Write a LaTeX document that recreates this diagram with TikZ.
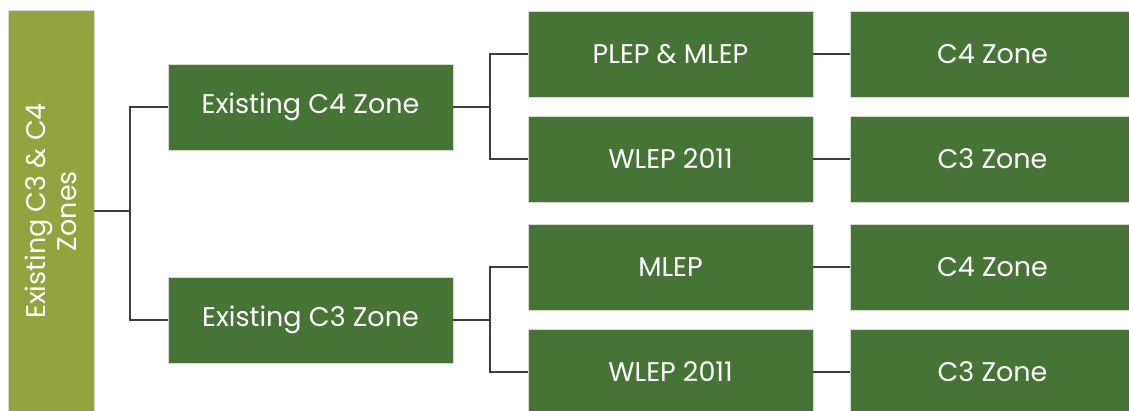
\documentclass[tikz,border=0pt]{standalone}
\usepackage{fontspec}
\setmainfont{Poppins}
\usetikzlibrary{calc}

\definecolor{rootgreen}{HTML}{93A33E}
\definecolor{boxgreen}{HTML}{467437}
\definecolor{edgegray}{HTML}{D5DCCF}
\definecolor{linkgray}{HTML}{3A3D48}

\tikzset{
	zonebox/.style={rectangle, fill=boxgreen, draw=edgegray, line width=0.8pt,
		minimum width=285pt, minimum height=86pt, inner sep=0pt,
		text=white, font=\fontsize{27}{31}\selectfont},
	rootbox/.style={zonebox, fill=rootgreen, minimum width=402pt,
		minimum height=86pt, rotate=90, align=center},
	link/.style={draw=linkgray, line width=2pt},
}

\begin{document}
\begin{tikzpicture}[x=1pt,y=-1pt]

% parameters %{{{2

	\def\colA{51}
	\def\colB{310.5}
	\def\colC{670.5}
	\def\colD{992.5}

	\useasboundingbox (0,0) rectangle (1129,410);

% boxes %{{{2

	\node[rootbox] (root) at (\colA,211) {Existing C3 \& C4\\Zones};

	\node[zonebox] (oldfour)  at (\colB,107) {Existing C4 Zone};
	\node[zonebox] (oldthree) at (\colB,320) {Existing C3 Zone};

	\node[zonebox] (plepmlep) at (\colC,54)  {PLEP \& MLEP};
	\node[zonebox] (wlepA)    at (\colC,159) {WLEP 2011};
	\node[zonebox] (mlep)     at (\colC,267) {MLEP};
	\node[zonebox] (wlepB)    at (\colC,372) {WLEP 2011};

	\node[zonebox] (fourA)  at (\colD,54)  {C4 Zone};
	\node[zonebox] (threeA) at (\colD,159) {C3 Zone};
	\node[zonebox] (fourB)  at (\colD,267) {C4 Zone};
	\node[zonebox] (threeB) at (\colD,372) {C3 Zone};

% forks %{{{2

	\coordinate (forkA) at ($(root.south)+(36,0)$);
	\coordinate (forkB) at ($(oldfour.east)+(37,0)$);
	\coordinate (forkC) at ($(oldthree.east)+(37,0)$);

% connectors %{{{2

	\draw[link] (root.south) -- (forkA);
	\draw[link] (forkA) |- (oldfour.west);
	\draw[link] (forkA) |- (oldthree.west);

	\draw[link] (oldfour.east) -- (forkB);
	\draw[link] (forkB) |- (plepmlep.west);
	\draw[link] (forkB) |- (wlepA.west);

	\draw[link] (oldthree.east) -- (forkC);
	\draw[link] (forkC) |- (mlep.west);
	\draw[link] (forkC) |- (wlepB.west);

	\draw[link] (plepmlep) -- (fourA);
	\draw[link] (wlepA) -- (threeA);
	\draw[link] (mlep) -- (fourB);
	\draw[link] (wlepB) -- (threeB);

% closing %{{{2

\end{tikzpicture}
\end{document}
